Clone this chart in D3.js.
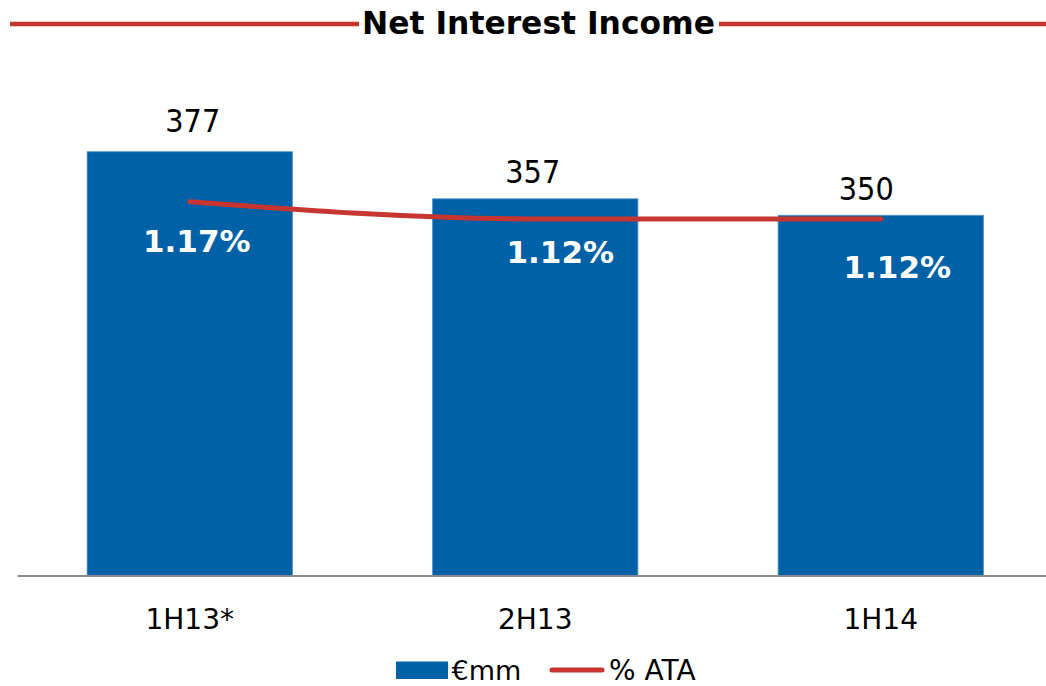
<!DOCTYPE html>
<html>
<head>
<meta charset="utf-8">
<script src="https://cdn.jsdelivr.net/npm/d3@7/dist/d3.min.js"></script>
<style>
  html, body { margin: 0; padding: 0; background: #ffffff; }
  svg { display: block; }
</style>
</head>
<body>
<script>
// ---- data ----
const categories = ["1H13*", "2H13", "1H14"];
const nii = [377, 357, 350];          // €mm
const ata = [1.17, 1.12, 1.12];       // % ATA
const ataLabels = ["1.17%", "1.12%", "1.12%"];
const legendLabels = ["€mm", "% ATA"];
const chartTitle = "Net Interest Income";

// ---- layout ----
const W = 1046, H = 686;
const baseY = 575.5;
const blue = "#0061A7", red = "#C6352F";

const svg = d3.select("body").append("svg").attr("width", W).attr("height", H);

const x = d3.scaleBand().domain(categories).range([17, 1053.5])
  .paddingInner(0.406).paddingOuter(0.203);
const y = d3.scaleLinear().domain([197, 400]).range([baseY, 97.6]);
const y2 = d3.scaleLinear().domain([1.0, 1.2]).range([260.5, 191.3]);

// title with red rules
svg.append("line").attr("x1", 10).attr("x2", 359).attr("y1", 24).attr("y2", 24)
  .attr("stroke", red).attr("stroke-width", 4.5);
svg.append("line").attr("x1", 719).attr("x2", W).attr("y1", 24).attr("y2", 24)
  .attr("stroke", red).attr("stroke-width", 4.5);
svg.append("text").attr("x", 538.5).attr("y", 33.5).attr("text-anchor", "middle")
  .attr("font-family", "DejaVu Sans").attr("font-weight", "bold").attr("font-size", 32)
  .attr("textLength", 353).attr("lengthAdjust", "spacingAndGlyphs")
  .attr("fill", "#000").text(chartTitle);

// bars
svg.append("g").selectAll("rect").data(nii).join("rect")
  .attr("x", (d, i) => x(categories[i]))
  .attr("width", x.bandwidth())
  .attr("y", d => y(d))
  .attr("height", d => baseY - y(d))
  .attr("fill", blue)
  .attr("stroke", "#4A8CC6").attr("stroke-width", 0.8);

// x axis
const ax = svg.append("g").attr("transform", `translate(0,${baseY})`)
  .call(d3.axisBottom(x).tickSize(0).tickSizeOuter(0));
ax.select(".domain").attr("stroke", "#8a8a8a").attr("stroke-width", 2);
ax.selectAll("text").attr("y", 629 - baseY).attr("dy", 0)
  .attr("font-family", "DejaVu Sans").attr("font-size", 28).attr("fill", "#000");

// value labels above bars
const valNudge = [[3, -20], [-2.5, -16], [-14.5, -15]];
svg.append("g").selectAll("text").data(nii).join("text")
  .attr("x", (d, i) => x(categories[i]) + x.bandwidth() / 2 + valNudge[i][0])
  .attr("y", (d, i) => y(d) + valNudge[i][1])
  .attr("text-anchor", "middle")
  .attr("font-family", "DejaVu Sans Condensed, DejaVu Sans").attr("font-stretch", "condensed")
  .attr("font-size", 32).attr("fill", "#000")
  .text(d => d);

// line
const line = d3.line()
  .x((d, i) => x(categories[i]) + x.bandwidth() / 2)
  .y(d => y2(d))
  .curve(d3.curveMonotoneX);
svg.append("path").datum(ata).attr("d", line)
  .attr("fill", "none").attr("stroke", red).attr("stroke-width", 5)
  .attr("stroke-linecap", "round").attr("stroke-linejoin", "round");

// percentage labels
const pctNudge = [[7, 50.3], [25, 44], [16.5, 59]];
svg.append("g").selectAll("text").data(ata).join("text")
  .attr("x", (d, i) => x(categories[i]) + x.bandwidth() / 2 + pctNudge[i][0])
  .attr("y", (d, i) => y2(d) + pctNudge[i][1])
  .attr("text-anchor", "middle")
  .attr("font-family", "DejaVu Sans").attr("font-weight", "bold")
  .attr("font-size", 31).attr("fill", "#fff")
  .text((d, i) => ataLabels[i]);

// legend
const lg = svg.append("g");
lg.append("rect").attr("x", 396).attr("y", 661.5).attr("width", 52).attr("height", 17.5).attr("fill", blue);
lg.append("text").attr("x", 451.5).attr("y", 679.5)
  .attr("font-family", "DejaVu Sans").attr("font-size", 27).attr("fill", "#000").text(legendLabels[0]);
lg.append("line").attr("x1", 552).attr("x2", 602).attr("y1", 670).attr("y2", 670)
  .attr("stroke", red).attr("stroke-width", 5).attr("stroke-linecap", "round");
lg.append("text").attr("x", 609).attr("y", 679.5)
  .attr("font-family", "DejaVu Sans").attr("font-size", 28).attr("fill", "#000").text(legendLabels[1]);
</script>
</body>
</html>
